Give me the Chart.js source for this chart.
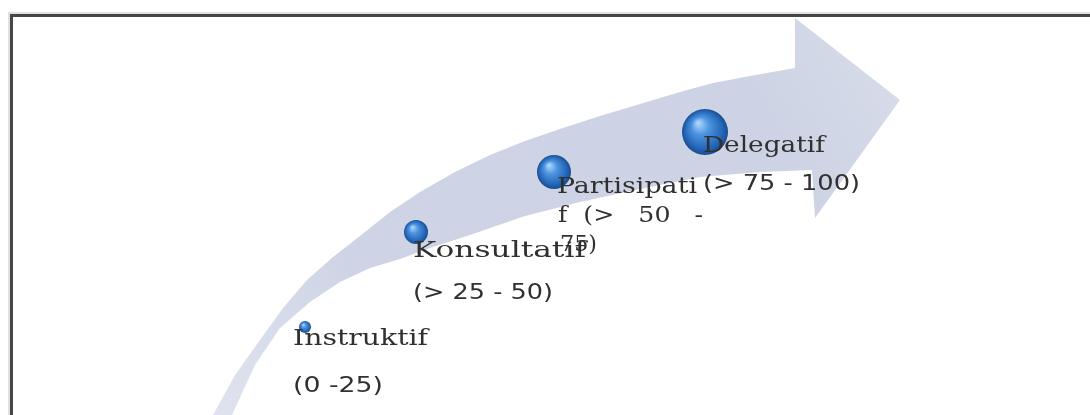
<!DOCTYPE html>
<html>
<head>
<meta charset="utf-8">
<script src="https://cdn.jsdelivr.net/npm/chart.js@4.4.1/dist/chart.umd.min.js"></script>
<style>
  html, body { margin: 0; padding: 0; background: #fff; }
  #wrap { width: 1090px; height: 415px; position: relative; }
</style>
</head>
<body>
<div id="wrap"><canvas id="myChart"></canvas></div>
<script>
// stages of the diagram
const stages = ['Instruktif', 'Konsultatif', 'Partisipatif', 'Delegatif']
const ranges = ['(0 -25)', '(> 25 - 50)', '(> 50 - 75)', '(> 75 - 100)']

// bubble centres and radius (0..1090 / 0..415 grid)
const bubbleX = [305, 416, 554, 705]
const bubbleY = [327, 232, 172, 132]
const bubbleR = [6, 12, 17, 23]

// arrow outline: outer curve bottom->head, head, inner curve back down
const arrowX = [213, 235, 260, 283, 307, 333, 360, 390, 420, 455, 490, 525, 560, 600, 640, 680, 713, 750, 795,
  795, 900, 815, 812,
  760, 700, 640, 580, 525, 470, 430, 400, 370, 340, 310, 280, 255, 232]
const arrowY = [415, 375, 340, 308, 280, 257, 236, 212, 192, 172, 155, 141, 129, 116, 104, 92, 83, 76, 68,
  18, 100, 218, 170,
  172, 177, 189, 202, 216, 235, 248, 259, 268, 282, 302, 328, 365, 415]

// text lines per stage (Partisipatif wraps in the original box)
const textLines = [
  [stages[0], ranges[0]],
  [stages[1], ranges[1]],
  ['Partisipati', 'f  (>   50   -', '75)'],
  [stages[3], ranges[3]]
]
// layout of each text block: left, first baseline, line step
const textPos = [[293, 345, 47], [413, 257, 42], [557, 193, 29], [703, 152, 38]]
// printed width of every line in the original box
const textWidth = [[135, 90], [173, 140], [140, 145, 37], [122, 157]]
const textIndent = [[0, 0], [0, 0], [0, 1, 3], [0, 0]]
// which lines are set in the sans face
const sansLine = [[false, true], [false, true], [false, false, false], [false, true]]

const arrowPts = arrowX.map((x, i) => ({ x: x, y: arrowY[i] }))
const bubbles = bubbleX.map((x, i) => ({ x: x, y: bubbleY[i], r: bubbleR[i] }))

function arrowFill(c) {
  const chart = c.chart
  const g = chart.ctx.createLinearGradient(210, 415, 900, 40)
  g.addColorStop(0, 'rgba(210,216,232,0.7)')
  g.addColorStop(0.25, '#ced4e5')
  g.addColorStop(0.8, '#cdd3e4')
  g.addColorStop(1, '#d8dcea')
  return g
}

function bubbleFill(c) {
  const chart = c.chart
  if (!chart.scales || !chart.scales.x || !c.raw) return '#2f74c8'
  const px = chart.scales.x.getPixelForValue(c.raw.x)
  const py = chart.scales.y.getPixelForValue(c.raw.y)
  const r = c.raw.r
  if (!isFinite(px) || !isFinite(py)) return '#2f74c8'
  const g = chart.ctx.createRadialGradient(px - r * 0.3, py - r * 0.4, r * 0.05, px, py, r)
  g.addColorStop(0, '#a9d4fa')
  g.addColorStop(0.35, '#4d94e0')
  g.addColorStop(0.8, '#2466b8')
  g.addColorStop(1, '#1a4c8f')
  return g
}

const frameAndText = {
  id: 'frameAndText',
  beforeDatasetsDraw(chart) {
    const c = chart.ctx
    c.save()
    c.strokeStyle = 'rgba(0,0,0,0.12)'
    c.lineWidth = 2
    c.beginPath()
    c.moveTo(9, 417); c.lineTo(9, 13); c.lineTo(1092, 13)
    c.stroke()
    c.strokeStyle = '#464646'
    c.lineWidth = 3
    c.beginPath()
    c.moveTo(11.5, 417); c.lineTo(11.5, 15.5); c.lineTo(1092, 15.5)
    c.stroke()
    c.restore()
  },
  afterDatasetsDraw(chart) {
    const c = chart.ctx
    c.save()
    c.fillStyle = '#303030'
    c.textBaseline = 'alphabetic'
    textLines.forEach((lines, i) => {
      const p = textPos[i]
      lines.forEach((t, j) => {
        c.font = sansLine[i][j] ? '22px "DejaVu Sans"' : '23px "DejaVu Serif"'
        const w = c.measureText(t).width
        c.save()
        c.translate(p[0] + textIndent[i][j], p[1] + j * p[2])
        c.scale(textWidth[i][j] / w, 1)
        c.fillText(t, 0, 0)
        c.restore()
      })
    })
    c.restore()
  }
}

const ctx = document.getElementById('myChart')
new Chart(ctx, {
  data: {
    datasets: [
      {
        type: 'bubble',
        label: 'stages',
        data: bubbles,
        backgroundColor: bubbleFill,
        borderWidth: 0,
        hoverRadius: 0
      },
      {
        type: 'line',
        label: 'arrow',
        data: arrowPts,
        fill: 'shape',
        backgroundColor: arrowFill,
        borderWidth: 0,
        pointRadius: 0,
        tension: 0
      }
    ]
  },
  options: {
    responsive: true,
    maintainAspectRatio: false,
    animation: false,
    layout: { padding: 0, autoPadding: false },
    scales: {
      x: { type: 'linear', min: 0, max: 1090, display: false },
      y: { type: 'linear', min: 0, max: 415, reverse: true, display: false }
    },
    plugins: {
      legend: { display: false },
      tooltip: { enabled: false }
    }
  },
  plugins: [frameAndText]
})
</script>
</body>
</html>
